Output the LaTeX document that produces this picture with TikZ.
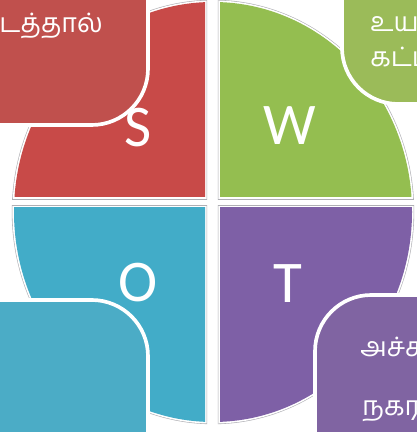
\documentclass[tikz,border=0pt]{standalone}
\usepackage{fontspec}
\setmainfont{Carlito}
\newfontfamily\tamilfont[Script=Tamil]{Hind Madurai}
\definecolor{swred}{RGB}{192,80,77}
\definecolor{swgreen}{RGB}{155,187,89}
\definecolor{swblue}{RGB}{75,172,198}
\definecolor{swpurple}{RGB}{128,100,162}
\definecolor{qred}{RGB}{200,74,72}
\definecolor{qgreen}{RGB}{148,190,80}
\definecolor{qblue}{RGB}{66,172,200}
\definecolor{qpurple}{RGB}{126,96,166}
\definecolor{rimgray}{RGB}{175,175,180}
\tikzset{
  callout/.style={draw=white, line width=2.6pt, rounded corners=40pt},
  letter/.style={text=white, inner sep=0pt,
    font=\fontsize{42}{42}\selectfont},
  tamil/.style={text=white, inner sep=0pt, anchor=base west,
    font=\tamilfont\fontsize{19}{19}\selectfont}
}
\begin{document}
\begin{tikzpicture}[x=0.025cm, y=0.025cm]
  \useasboundingbox (0,0) rectangle (416,432);
  \fill[white] (0,0) rectangle (416,432);

  % Four segments of the circle, with white rim and grey edge
  \foreach \xa/\xb/\ya/\yb/\col in {0/205/235/440/qred, 220/420/235/440/qgreen,
                                    0/205/-10/224/qblue, 220/420/-10/224/qpurple} {
    \begin{scope}
      \clip (\xa-2.2,\ya-2.2) rectangle (\xb+2.2,\yb+2.2);
      \fill[rimgray] (213,220) ellipse [x radius=201.2, y radius=212.2];
    \end{scope}
    \begin{scope}
      \clip (\xa-1.6,\ya-1.6) rectangle (\xb+1.6,\yb+1.6);
      \fill[white] (213,220) ellipse [x radius=200.6, y radius=211.6];
    \end{scope}
    \begin{scope}
      \clip (\xa,\ya) rectangle (\xb,\yb);
      \fill[\col] (213,220) ellipse [x radius=199, y radius=210];
    \end{scope}
  }

  % Letters
  \node[letter] (s) at (138,304) {S};
  \node[letter] (w) at (290,306) {W};
  \node[letter] (o) at (138,149) {O};
  \node[letter] (t) at (288,148) {T};

  % Callout boxes in the corners
  \draw[callout, fill=swred] (-80,520) rectangle (148,307);
  \draw[callout, fill=swgreen] (342,328) rectangle (500,520);
  \draw[callout, fill=swblue] (-80,-80) rectangle (148,132);
  \draw[callout, fill=swpurple] (315,137) rectangle (500,-80);

  % Callout texts
  \node[tamil, anchor=base east] (stext) at (103,399) {டடத்தால்};
  \node[tamil] (wtexta) at (370,400) {உய};
  \node[tamil] (wtextb) at (370,365) {கட்ட};
  \node[tamil] (ttexta) at (360,75) {அச்ச};
  \node[tamil] (ttextb) at (362,17) {நகரம};
\end{tikzpicture}
\end{document}
